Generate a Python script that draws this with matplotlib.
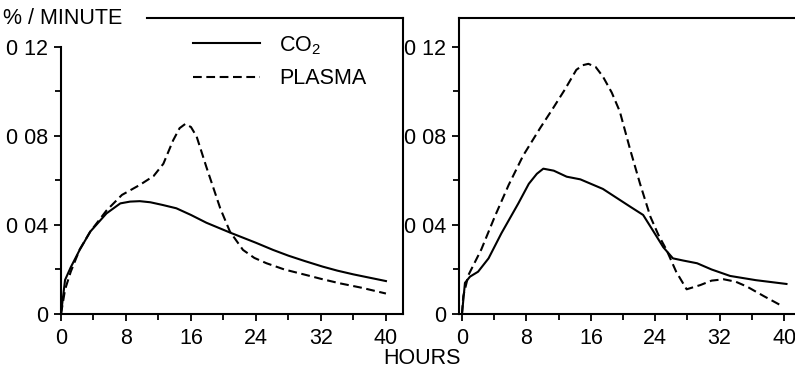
import matplotlib
matplotlib.use("Agg")
import matplotlib.pyplot as plt
from matplotlib import font_manager
from matplotlib.lines import Line2D

# ---- data ---------------------------------------------------------------
hours_ticks = [0, 8, 16, 24, 32, 40]
rate_ticks = [0, 0.04, 0.08, 0.12]
rate_tick_labels = ["0", "0 04", "0 08", "0 12"]

# left panel
left_co2_h = [0, 0.5, 1.2, 2.3, 3.6, 5.6, 7.3, 8.5, 9.7, 11.0, 12.5, 14.2,
              16.0, 17.9, 20.8, 24.0, 26.1, 28.0, 30.0, 32.2, 34.0, 36.0, 38.0, 40.0]
left_co2_v = [0, 0.0153, 0.021, 0.0288, 0.037, 0.0452, 0.0497, 0.0505, 0.0507, 0.0502,
              0.0490, 0.0475, 0.0445, 0.0410, 0.0366, 0.0320, 0.0288, 0.0262, 0.0238,
              0.0213, 0.0195, 0.0178, 0.0163, 0.0148]
left_plasma_h = [0, 0.5, 1.2, 2.3, 3.6, 5.6, 7.5, 9.7, 11.4, 12.6, 13.8, 14.6, 15.3,
                 16.0, 16.7, 17.9, 19.6, 20.8, 22.4, 23.8, 25.3, 27.5, 30.2, 32.0,
                 34.3, 37.0, 40.0]
left_plasma_v = [0, 0.011, 0.019, 0.029, 0.037, 0.0465, 0.0535, 0.0580, 0.0620, 0.0675,
                 0.0780, 0.0835, 0.0854, 0.0840, 0.0797, 0.0660, 0.0475, 0.0370, 0.0288,
                 0.0252, 0.0228, 0.0200, 0.0175, 0.0158, 0.0138, 0.0118, 0.0092]

# right panel
right_co2_h = [0, 0.37, 1.0, 2.0, 3.3, 4.9, 7.0, 8.3, 9.3, 10.1, 11.4, 13.0, 14.7,
               17.5, 20.9, 22.5, 23.8, 25.0, 26.2, 27.5, 29.2, 31.0, 33.3, 36.5, 40.3]
right_co2_v = [0, 0.014, 0.0168, 0.019, 0.025, 0.0363, 0.0497, 0.0585, 0.0630, 0.0653,
               0.0644, 0.0617, 0.0605, 0.0562, 0.0482, 0.0445, 0.0370, 0.0300, 0.0250,
               0.0240, 0.0228, 0.0200, 0.0171, 0.0152, 0.0135]
right_plasma_h = [0, 0.16, 0.8, 2.4, 4.1, 5.8, 7.6, 9.7, 11.3, 12.8, 14.2, 15.0, 15.7,
                  16.6, 17.5, 18.6, 19.6, 20.9, 22.1, 23.4, 24.4, 25.4, 26.6, 27.9,
                  29.6, 31.0, 32.5, 34.0, 35.4, 37.5, 39.9]
right_plasma_v = [0, 0.008, 0.0175, 0.029, 0.044, 0.058, 0.0712, 0.0835, 0.0924,
                  0.1010, 0.1097, 0.1118, 0.1124, 0.1110, 0.1067, 0.0995, 0.0910,
                  0.0737, 0.0587, 0.0437, 0.0355, 0.0288, 0.0190, 0.0111, 0.0130,
                  0.0150, 0.0156, 0.0145, 0.0123, 0.0080, 0.0033]

# ---- styling ------------------------------------------------------------
available = {f.name for f in font_manager.fontManager.ttflist}
family = next((f for f in ["Liberation Sans Narrow", "DejaVu Sans Condensed",
                           "Liberation Sans", "DejaVu Sans"] if f in available),
              "DejaVu Sans")
fs = 15 if ("Narrow" in family or "Condensed" in family) else 15.5
plt.rcParams["font.family"] = [family, "DejaVu Sans"]
plt.rcParams["mathtext.default"] = "regular"
plt.rcParams["mathtext.fontset"] = "custom"
plt.rcParams["mathtext.rm"] = family

W, H = 795, 370
fig = plt.figure(figsize=(W / 100, H / 100), dpi=100)


def px_axes(left, right, top, bottom):
    return fig.add_axes([left / W, 1 - bottom / H, (right - left) / W, (bottom - top) / H])


LW = 1.5
DASH = (4.2, 2.2)

ax1 = px_axes(61, 403, 18, 314)
ax2 = px_axes(459, 805, 18, 314)

for ax in (ax1, ax2):
    ax.set_ylim(0, 0.133)
    ax.set_xticks(hours_ticks)
    ax.set_xticklabels([str(t) for t in hours_ticks])
    ax.set_xticks(range(4, 41, 8), minor=True)
    ax.set_yticks(rate_ticks)
    ax.set_yticklabels(rate_tick_labels)
    ax.set_yticks([0.02, 0.06, 0.10], minor=True)
    ax.tick_params(which="major", length=5, width=1.3, labelsize=fs)
    ax.tick_params(which="minor", length=4, width=1.3)
    ax.tick_params(axis="y", pad=4)
    ax.tick_params(axis="x", pad=5)
    for s in ax.spines.values():
        s.set_linewidth(1.5)

ax1.set_xlim(0, 42.1)
ax2.set_xlim(-0.37, 42.6)

ax1.plot(left_co2_h, left_co2_v, color="black", lw=LW, solid_joinstyle="round")
ax1.plot(left_plasma_h, left_plasma_v, color="black", lw=LW, dashes=DASH)
ax2.plot(right_co2_h, right_co2_v, color="black", lw=LW, solid_joinstyle="round")
ax2.plot(right_plasma_h, right_plasma_v, color="black", lw=LW, dashes=DASH)

# left panel frame: left spine stops at the top tick, top rule starts after the unit label
ax1.spines["left"].set_bounds(0, 0.12)
ax1.spines["top"].set_bounds(10.6, 42.1)
ax2.spines["right"].set_visible(False)

fig.text(3 / W, 1 - 19 / H, "% / MINUTE", fontsize=fs, va="center", ha="left")
fig.text(422 / W, 1 - 358 / H, "HOURS", fontsize=fs, va="center", ha="center")

handles = [Line2D([], [], color="black", lw=LW),
           Line2D([], [], color="black", lw=LW, dashes=DASH)]
ax1.legend(handles, ["CO$_2$", "PLASMA"], loc="upper left",
           bbox_to_anchor=(193 / W, 1 - 34 / H), bbox_transform=fig.transFigure,
           frameon=False, fontsize=fs, handlelength=3.1, handletextpad=0.9,
           labelspacing=0.55, borderpad=0, borderaxespad=0)

fig.savefig("out.png", dpi=100)
